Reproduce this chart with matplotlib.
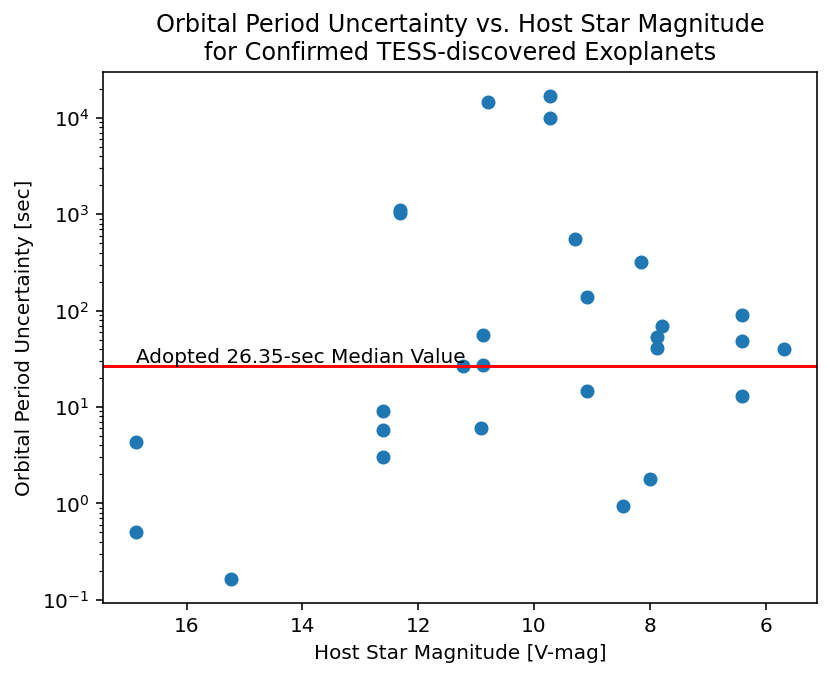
import matplotlib
matplotlib.use('Agg')
import matplotlib.pyplot as plt

# Host star V magnitudes and orbital period uncertainties (sec)
vmag = [16.88, 16.88, 15.24, 12.61, 12.61, 12.61, 12.31, 12.31, 11.22,
        10.79, 9.72, 9.72, 9.30, 8.15, 9.09, 9.09, 10.89, 10.89, 10.92,
        7.79, 7.87, 7.87, 6.41, 6.41, 6.41, 5.68, 8.00, 8.47]
period_unc = [4.32, 0.50, 0.165, 9.06, 5.8, 3.01, 1112, 1026, 26.35,
              14600, 16800, 9910, 553, 319, 137, 14.6, 56.2, 27.5, 6.0,
              68.5, 53.1, 40.8, 90.6, 48.5, 12.9, 39.8, 1.78, 0.95]

median_unc = 26.35

fig = plt.figure(figsize=(831 / 144, 678 / 144), dpi=144)
fig.subplots_adjust(left=0.1243, right=0.9828, top=0.894, bottom=0.1106)
ax = fig.add_subplot(111)

ax.scatter(vmag, period_unc)
ax.axhline(median_unc, color='red')
ax.text(16.88, median_unc * 1.085, 'Adopted 26.35-sec Median Value')

ax.set_yscale('log')
ax.invert_xaxis()

ax.set_xlabel('Host Star Magnitude [V-mag]')
ax.set_ylabel('Orbital Period Uncertainty [sec]')
ax.set_title('Orbital Period Uncertainty vs. Host Star Magnitude\n'
             'for Confirmed TESS-discovered Exoplanets')

plt.savefig('out.png', dpi=144)
